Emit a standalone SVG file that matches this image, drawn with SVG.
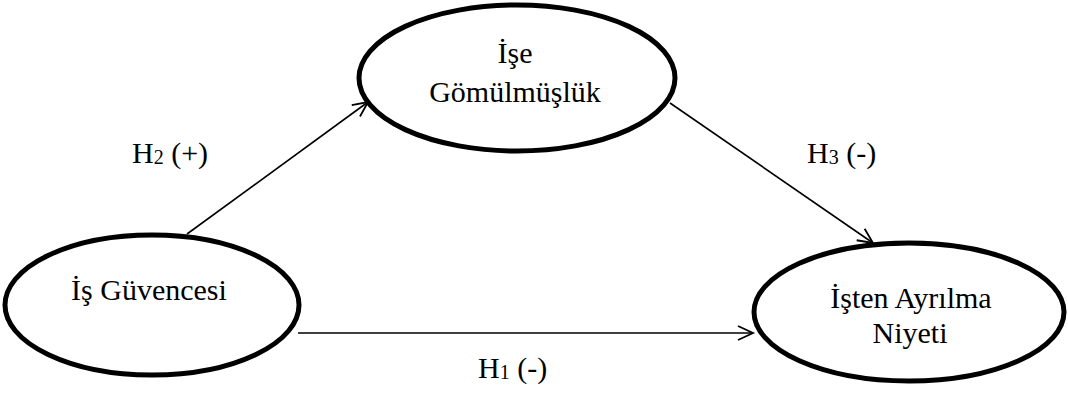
<svg xmlns="http://www.w3.org/2000/svg" width="1068" height="394" viewBox="0 0 1068 394">
<style>
.node{fill:#fff;stroke:#000;stroke-width:5}
.edge{stroke:#000;stroke-width:1.6;fill:none}
text{font-family:"Liberation Serif","Times New Roman",serif;font-size:30px;fill:#000}
.lbl{text-anchor:middle}
.sub{font-size:20px}
</style>
<defs>
<marker id="arr" markerUnits="userSpaceOnUse" markerWidth="24" markerHeight="24" refX="16" refY="8" orient="auto" viewBox="0 0 24 16">
<path d="M1,1 L16,8 L1,15" fill="none" stroke="#000" stroke-width="1.8"/>
</marker>
</defs>
<g id="connectors">
<line class="edge" x1="187" y1="234" x2="368" y2="102" marker-end="url(#arr)"/>
<line class="edge" x1="670" y1="103" x2="873" y2="243" marker-end="url(#arr)"/>
<line class="edge" x1="298" y1="333" x2="753" y2="333" marker-end="url(#arr)"/>
</g>
<g id="node-ise">
<ellipse class="node" cx="517" cy="78" rx="158" ry="73"/>
<text class="lbl" x="515" y="63">İşe</text>
<text class="lbl" x="515" y="102">Gömülmüşlük</text>
</g>
<g id="node-is-guvencesi">
<ellipse class="node" cx="152" cy="305" rx="147" ry="70"/>
<text class="lbl" x="149" y="300">İş Güvencesi</text>
</g>
<g id="node-isten">
<ellipse class="node" cx="909" cy="312" rx="155" ry="69"/>
<text class="lbl" x="911" y="308">İşten Ayrılma</text>
<text class="lbl" x="910" y="343">Niyeti</text>
</g>
<g id="labels">
<text x="132" y="163">H<tspan class="sub" dy="1">2</tspan><tspan dy="-1"> (+)</tspan></text>
<text x="807" y="163">H<tspan class="sub" dy="1">3</tspan><tspan dy="-1"> (-)</tspan></text>
<text x="478" y="378">H<tspan class="sub" dy="1">1</tspan><tspan dy="-1"> (-)</tspan></text>
</g>
</svg>
